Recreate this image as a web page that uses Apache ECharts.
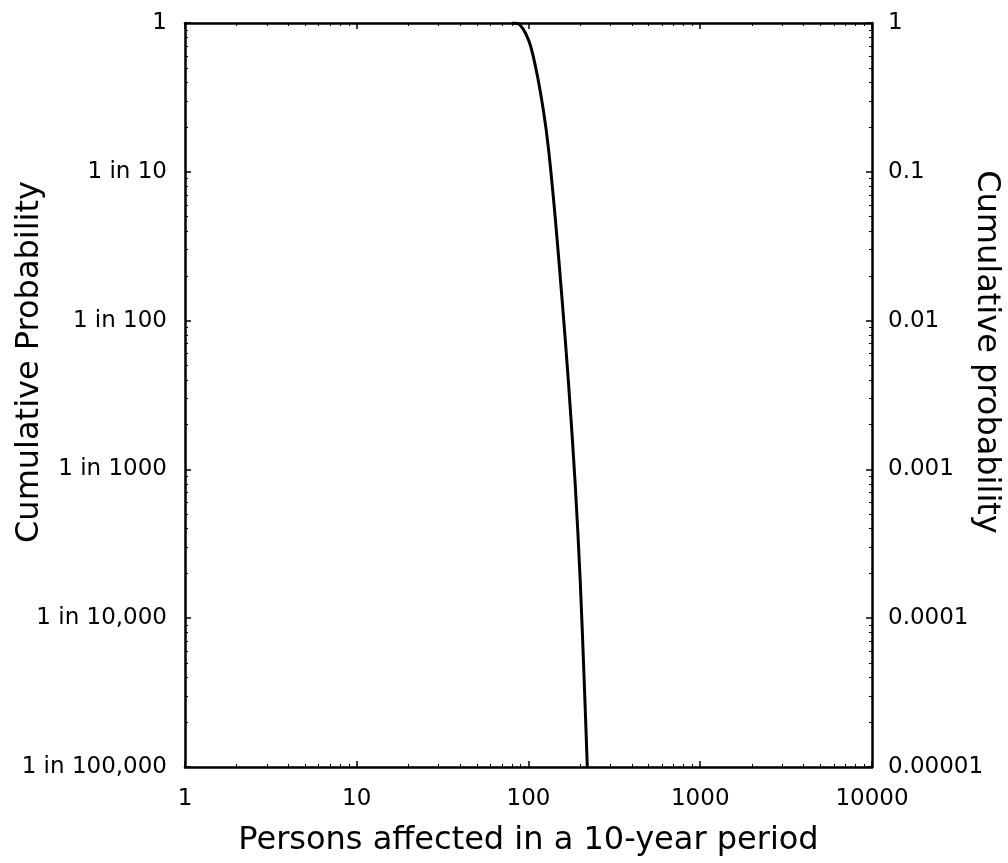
<!DOCTYPE html>
<html>
<head>
<meta charset="utf-8">
<script src="https://cdn.jsdelivr.net/npm/echarts@6/dist/echarts.min.js"></script>
<style>
  html, body { margin: 0; padding: 0; background: #fff; }
  #main { width: 1008px; height: 863px; }
</style>
</head>
<body>
<div id="main"></div>
<script>
// persons affected (x) vs cumulative probability (y)
var persons = [80, 87, 100, 110, 122, 131, 143, 157, 171, 187, 200, 211, 220];
var prob = [1, 0.99, 0.77, 0.506, 0.26, 0.14, 0.0495, 0.0137, 0.0038, 0.0008, 0.00018, 0.000038, 0.00001];

// tick labels, from 10^-5 up to 10^0
var leftLabels = ['1 in 100,000', '1 in 10,000', '1 in 1000', '1 in 100', '1 in 10', '1'];
var rightLabels = ['0.00001', '0.0001', '0.001', '0.01', '0.1', '1'];
var xLabels = ['1', '10', '100', '1000', '10000'];

var font = 'DejaVu Sans, sans-serif';

var points = persons.map(function (p, i) {
    return [p, prob[i]];
});

function decade(v) {
    return Math.round(Math.log(v) / Math.LN10);
}

var myChart = echarts.init(document.getElementById('main'));

var tickStyle = { inside: true, length: 6, lineStyle: { color: '#000', width: 1.5 } };
var minorStyle = { show: true, splitNumber: 9, length: 3, lineStyle: { color: '#000' } };
var lineStyle = { lineStyle: { color: '#000', width: 2.5 } };

var option = {
    backgroundColor: '#fff',
    animation: false,
    grid: {
        left: 185,
        right: 136,
        top: 23,
        bottom: 96,
        containLabel: false,
        outerBoundsMode: 'none'
    },
    xAxis: [{
        type: 'log',
        logBase: 10,
        min: 1,
        max: 10000,
        name: 'Persons affected in a 10-year period',
        nameLocation: 'middle',
        nameGap: 58,
        nameMoveOverlap: false,
        nameTextStyle: { fontFamily: font, fontSize: 32, color: '#000' },
        axisLine: lineStyle,
        axisTick: tickStyle,
        minorTick: minorStyle,
        splitLine: { show: false },
        axisLabel: {
            fontFamily: font, fontSize: 23, color: '#000', margin: 21,
            formatter: function (v) { return xLabels[decade(v)]; }
        }
    }, {
        type: 'log',
        logBase: 10,
        min: 1,
        max: 10000,
        position: 'top',
        axisLine: lineStyle,
        axisTick: tickStyle,
        minorTick: minorStyle,
        splitLine: { show: false },
        axisLabel: { show: false }
    }],
    yAxis: [{
        type: 'log',
        logBase: 10,
        min: 0.00001,
        max: 1,
        name: 'Cumulative Probability',
        nameLocation: 'middle',
        nameGap: 139,
        nameMoveOverlap: false,
        nameTextStyle: { fontFamily: font, fontSize: 32, color: '#000', padding: [0, 0, 0, 66] },
        axisLine: lineStyle,
        axisTick: tickStyle,
        minorTick: minorStyle,
        splitLine: { show: false },
        axisLabel: {
            fontFamily: font, fontSize: 23, color: '#000', margin: 18,
            formatter: function (v) { return leftLabels[decade(v) + 5]; }
        }
    }, {
        type: 'log',
        logBase: 10,
        min: 0.00001,
        max: 1,
        position: 'right',
        name: 'Cumulative probability',
        nameLocation: 'middle',
        nameRotate: -90,
        nameGap: 98,
        nameMoveOverlap: false,
        nameTextStyle: { fontFamily: font, fontSize: 32, color: '#000', padding: [0, 86, 0, 0] },
        axisLine: lineStyle,
        axisTick: tickStyle,
        minorTick: minorStyle,
        splitLine: { show: false },
        axisLabel: {
            fontFamily: font, fontSize: 23, color: '#000', margin: 16,
            formatter: function (v) { return rightLabels[decade(v) + 5]; }
        }
    }],
    series: [{
        type: 'line',
        xAxisIndex: 0,
        yAxisIndex: 0,
        data: points,
        smooth: 0.3,
        showSymbol: false,
        lineStyle: { color: '#000', width: 3 }
    }]
};

myChart.setOption(option);
</script>
</body>
</html>
